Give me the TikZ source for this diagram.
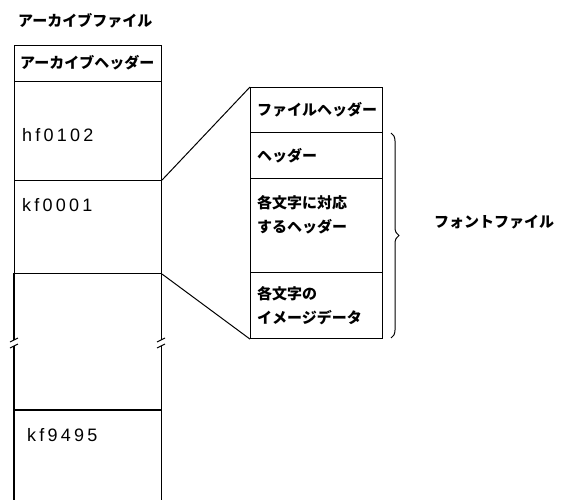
\documentclass[tikz,border=0pt]{standalone}
\usepackage{fontspec}
\usetikzlibrary{decorations.pathreplacing}
\newfontfamily\jp{Noto Sans CJK JP}
\newfontfamily\lat{Liberation Sans}[LetterSpace=18]
\begin{document}
\begin{tikzpicture}[x=1pt,y=-1pt,
  box/.style={draw,line width=1.1pt,minimum width=#1,inner sep=0pt},
  ghost/.style={inner sep=0pt,minimum width=#1},
  jtxt/.style={anchor=west,inner sep=0pt,font=\jp\bfseries\fontsize{15}{24}\selectfont,align=left},
  ltxt/.style={anchor=west,inner sep=0pt,font=\lat\fontsize{18}{20}\selectfont},
  link/.style={line width=1pt},
  brk/.style={line width=1pt}]
\useasboundingbox (0,0) rectangle (563,500);
% left column
\node[box=147pt,minimum height=36pt,anchor=north west] (ah) at (14,45) {};
\node[box=147pt,minimum height=99pt,anchor=north west] (hf) at (14,81) {};
\node[box=147pt,minimum height=93pt,anchor=north west] (kf) at (14,180) {};
\node[ghost=147pt,minimum height=137pt,anchor=north west] (em) at (14,273) {};
\node[ghost=147pt,minimum height=90pt,anchor=north west] (k9) at (14,410) {};
\draw[line width=1.1pt] (em.north west) -- (k9.south west)
  (em.north east) -- (k9.south east)
  (k9.north west) -- (k9.north east);
% break marks
\foreach \xx in {14,161}{
  \fill[white] (\xx-3,340) rectangle (\xx+3,346);
  \draw[brk] (\xx-4,342) -- (\xx+4,338);
  \draw[brk] (\xx-4,348) -- (\xx+4,344);
}
% texts left
\node[jtxt] (title) at (18,21) {アーカイブファイル};
\node[jtxt] (aht) at (20,63) {アーカイブヘッダー};
\node[ltxt] (hft) at (22,135) {hf0102};
\node[ltxt] (kft) at (22,205) {kf0001};
\node[ltxt] (k9t) at (27,435) {kf9495};
% right box
\node[box=132pt,minimum height=45pt,anchor=north west] (fh) at (250,87) {};
\node[box=132pt,minimum height=46pt,anchor=north west] (hd) at (250,132) {};
\node[box=132pt,minimum height=94pt,anchor=north west] (ch) at (250,178) {};
\node[box=132pt,minimum height=66pt,anchor=north west] (im) at (250,272) {};
\node[jtxt] (fht) at (257,110) {ファイルヘッダー};
\node[jtxt] (hdt) at (257,156) {ヘッダー};
\node[jtxt] (cht) at (257,215) {各文字に対応\\するヘッダー};
\node[jtxt] (imt) at (257,306) {各文字の\\イメージデータ};
% connectors
\draw[link] (kf.north east) -- (fh.north west);
\draw[link] (kf.south east) -- (im.south west);
% brace
\coordinate (bt) at (391,133);
\coordinate (bb) at (391,338);
\draw[line width=1pt,decorate,decoration={brace,amplitude=8pt}] (bt) -- (bb);
\node[jtxt] (ff) at (434,222) {フォントファイル};
\end{tikzpicture}
\end{document}
